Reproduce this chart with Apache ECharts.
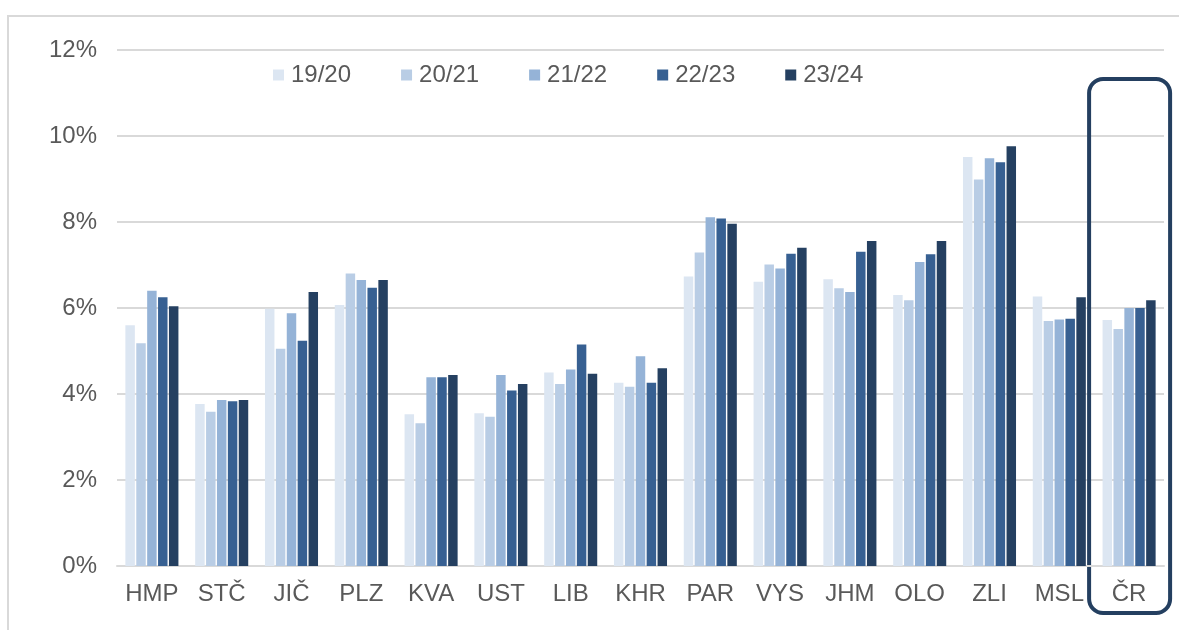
<!DOCTYPE html>
<html>
<head>
<meta charset="utf-8">
<script src="https://cdn.jsdelivr.net/npm/echarts@6/dist/echarts.min.js"></script>
<style>
    html, body { margin: 0; padding: 0; background: #fff; }
    #chart { width: 1179px; height: 630px; }
</style>
</head>
<body>
<div id="chart"></div>
<script>
// regiony
const categories = ["HMP", "STČ", "JIČ", "PLZ", "KVA", "UST", "LIB", "KHR", "PAR", "VYS", "JHM", "OLO", "ZLI", "MSL", "ČR"];
const seriesNames = ["19/20", "20/21", "21/22", "22/23", "23/24"];
const yTicks = [0, 2, 4, 6, 8, 10, 12];

// hodnoty v %
const s1920 = [5.60, 3.77, 5.98, 6.07, 3.53, 3.55, 4.50, 4.26, 6.73, 6.61, 6.67, 6.30, 9.51, 6.27, 5.72];
const s2021 = [5.18, 3.59, 5.05, 6.80, 3.32, 3.47, 4.23, 4.17, 7.29, 7.01, 6.46, 6.18, 8.99, 5.70, 5.51];
const s2122 = [6.40, 3.86, 5.88, 6.65, 4.39, 4.44, 4.57, 4.88, 8.11, 6.92, 6.37, 7.07, 9.48, 5.73, 6.00];
const s2223 = [6.25, 3.83, 5.24, 6.47, 4.39, 4.08, 5.15, 4.26, 8.08, 7.26, 7.31, 7.25, 9.39, 5.75, 6.00];
const s2324 = [6.04, 3.86, 6.37, 6.65, 4.44, 4.23, 4.47, 4.60, 7.96, 7.40, 7.56, 7.56, 9.76, 6.25, 6.18];

const colors = ["#dce6f2", "#b9cde5", "#95b3d7", "#376092", "#254061"];
const textColor = "#595959";
const font = "Liberation Sans, Arial, sans-serif";

const myChart = echarts.init(document.getElementById("chart"));

const seriesArr = [s1920, s2021, s2122, s2223, s2324].map((data, i) => {
    return {
        type: "bar",
        name: seriesNames[i],
        data: data,
        barGap: "15%",
        barCategoryGap: "24%",
        itemStyle: { color: colors[i] },
        silent: true,
    };
});

myChart.setOption({
    animation: false,
    backgroundColor: "#fff",
    textStyle: { fontFamily: font },
    legend: {
        top: 58,
        left: 268,
        itemWidth: 11,
        itemHeight: 11,
        itemGap: 50,
        icon: "rect",
        textStyle: { color: textColor, fontSize: 24, fontFamily: font, padding: [0, 0, 0, 2] },
        data: seriesNames,
    },
    grid: {
        left: 117,
        right: 15,
        top: 50,
        bottom: 64,
        containLabel: false,
    },
    xAxis: {
        type: "category",
        data: categories,
        axisLine: { lineStyle: { color: "#d9d9d9", width: 2 } },
        axisTick: { show: false },
        axisLabel: { color: textColor, fontSize: 24, fontFamily: font, margin: 16, interval: 0 },
    },
    yAxis: {
        type: "value",
        min: yTicks[0],
        max: yTicks[yTicks.length - 1],
        interval: 2,
        axisLine: { show: false },
        axisTick: { show: false },
        axisLabel: {
            color: textColor, fontSize: 24, fontFamily: font, margin: 20,
            formatter: (v) => v + "%",
        },
        splitLine: { lineStyle: { color: "#d9d9d9", width: 2 } },
    },
    series: seriesArr,
});

// rámeček kolem ČR + okraj grafu
const crX = myChart.convertToPixel({ xAxisIndex: 0 }, "ČR");
myChart.setOption({
    graphic: [
        {
            type: "polyline",
            shape: { points: [[8, 630], [8, 16], [1179, 16]] },
            style: { stroke: "#d9d9d9", lineWidth: 2, fill: null },
            silent: true,
        },
        {
            type: "rect",
            shape: { x: crX - 40, y: 79, width: 81, height: 534, r: 14 },
            style: { stroke: "#243f60", lineWidth: 4, fill: null },
            silent: true,
        },
    ],
});
</script>
</body>
</html>
